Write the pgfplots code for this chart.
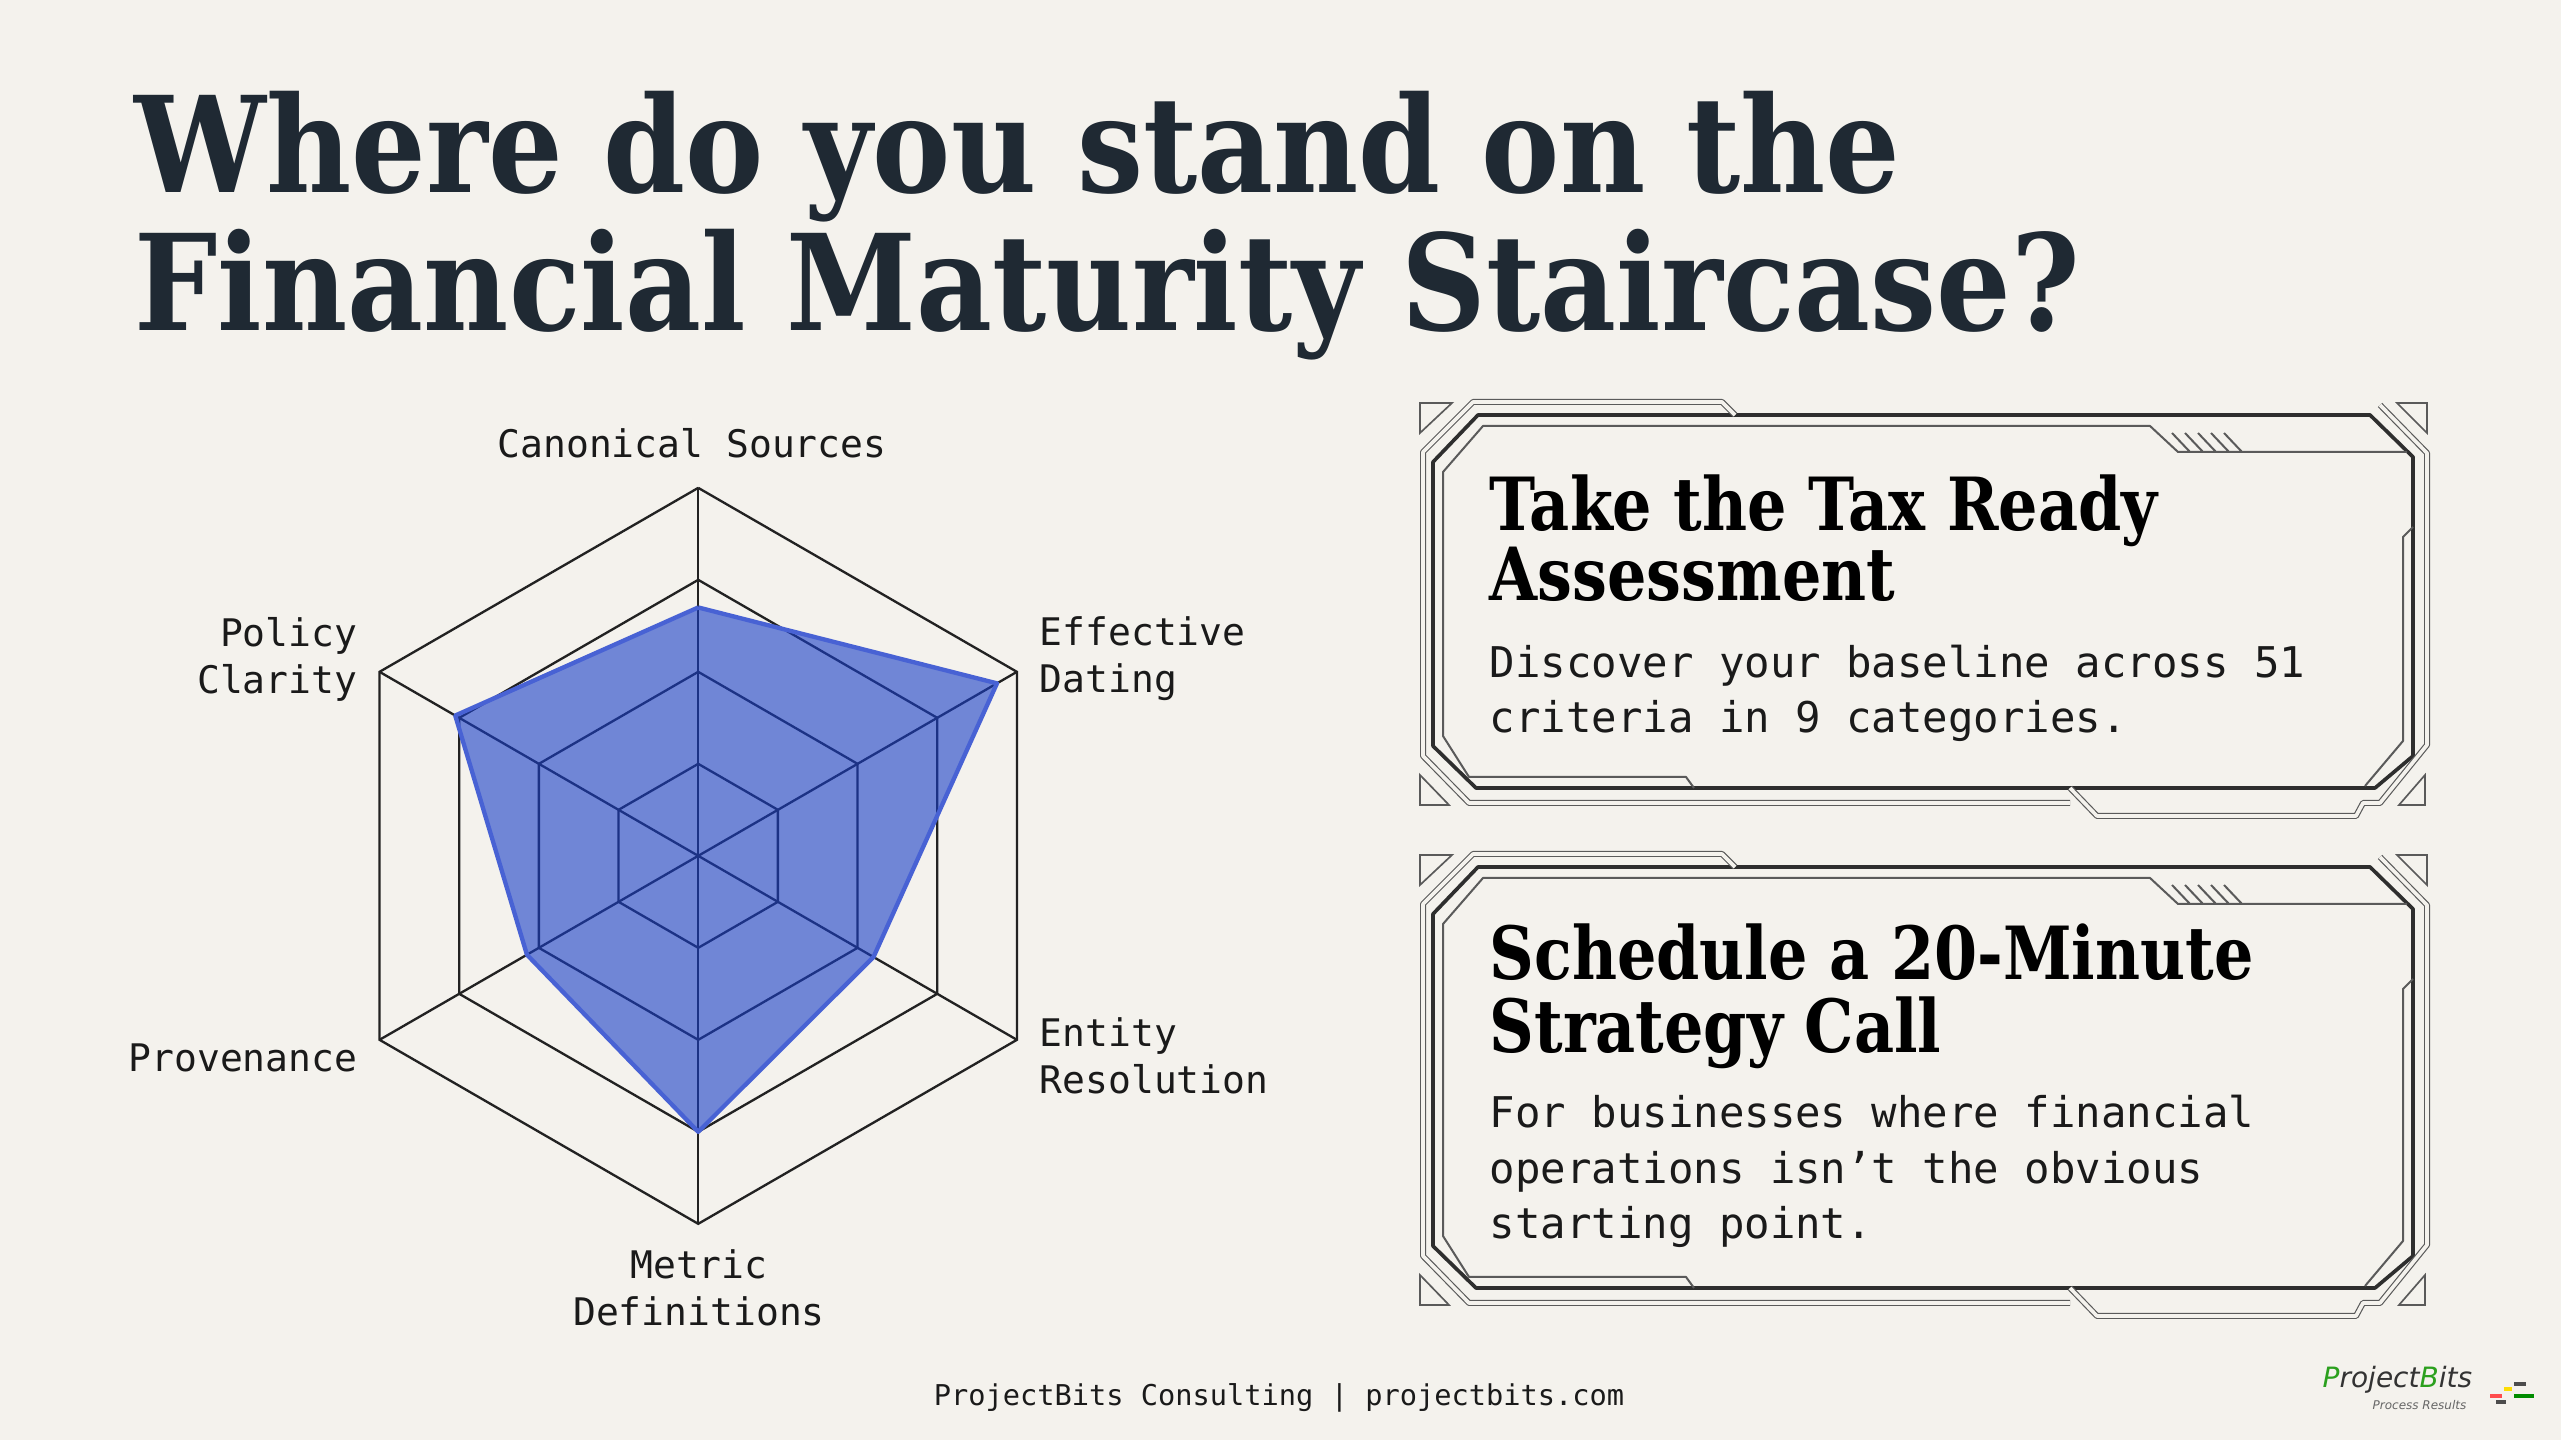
\documentclass[border=0pt]{standalone}
\usepackage{fontspec}
\usepackage{pgfplots}
\pgfplotsset{compat=1.18}
\usepgfplotslibrary{polar}
\setmainfont{DejaVu Serif}
\newfontfamily\slab{DejaVu Serif}[FakeStretch=0.88]
\newfontfamily\slabc{DejaVu Serif}[FakeStretch=0.845]
\newfontfamily\mono{DejaVu Sans Mono}
\newfontfamily\logofont{DejaVu Sans}
\definecolor{bgc}{HTML}{F4F2ED}
\definecolor{titlec}{HTML}{1F2933}
\definecolor{gridc}{HTML}{222222}
\definecolor{radarfill}{RGB}{25,62,200}
\definecolor{radaredge}{RGB}{72,98,212}
\definecolor{textc}{HTML}{1A1A1A}
\definecolor{framedark}{HTML}{2E2E2E}
\definecolor{framelight}{HTML}{5A5A5A}
\definecolor{logogreen}{HTML}{2BA01E}

\newcommand{\cardframe}[2]{%
  % main thick frame
  \draw[framedark, line width=1.1pt, line join=round]
    (1433,{1440-(#1+60)}) -- (1478,{1440-(#1+13)}) -- (2370,{1440-(#1+13)}) -- (2413,{1440-(#1+55)})
    -- (2413,{1440-(#2-60)}) -- (2375,{1440-(#2-28)}) -- (1476,{1440-(#2-28)}) -- (1433,{1440-(#2-70)}) -- cycle;
  % outer double thin line
  \draw[framelight, line width=0.35pt, double=bgc, double distance=1.1pt, line join=round]
    (1735,{1440-(#1+13)}) -- (1722,{1440-(#1)}) -- (1473,{1440-(#1)}) -- (1423,{1440-(#1+50)})
    -- (1423,{1440-(#2-60)}) -- (1469,{1440-(#2-13)}) -- (2070,{1440-(#2-13)});
  \draw[framelight, line width=0.35pt, double=bgc, double distance=1.1pt, line join=round]
    (2070,{1440-(#2-28)}) -- (2097,{1440-(#2)}) -- (2356,{1440-(#2)}) -- (2363,{1440-(#2-13)})
    -- (2380,{1440-(#2-13)}) -- (2427,{1440-(#2-71)}) -- (2427,{1440-(#1+51)}) -- (2380,{1440-(#1+3)});
  % inner thin line
  \draw[framelight, line width=0.6pt, line join=round]
    (2407,{1440-(#1+50)}) -- (2178,{1440-(#1+50)}) -- (2150,{1440-(#1+24)}) -- (1483,{1440-(#1+24)})
    -- (1443,{1440-(#1+70)}) -- (1443,{1440-(#2-80)}) -- (1469,{1440-(#2-39)}) -- (1686,{1440-(#2-39)}) -- (1694,{1440-(#2-28)});
  \draw[framelight, line width=0.6pt, line join=round]
    (2413,{1440-(#1+125)}) -- (2403,{1440-(#1+135)}) -- (2403,{1440-(#2-75)}) -- (2365,{1440-(#2-30)});
  % hatch marks
  \foreach \k in {0,...,4} {
    \draw[framelight, line width=0.6pt] ({2172+13*\k},{1440-(#1+31)}) -- ({2190+13*\k},{1440-(#1+50)});
  }
  % corner triangles
  \draw[framelight, line width=0.5pt] (1420,{1440-(#1+1)}) -- (1452,{1440-(#1+1)}) -- (1420,{1440-(#1+31)}) -- cycle;
  \draw[framelight, line width=0.5pt] (2397,{1440-(#1+1)}) -- (2427,{1440-(#1+1)}) -- (2427,{1440-(#1+31)}) -- cycle;
  \draw[framelight, line width=0.5pt] (1420,{1440-(#2-41)}) -- (1420,{1440-(#2-11)}) -- (1449,{1440-(#2-11)}) -- cycle;
  \draw[framelight, line width=0.5pt] (2425,{1440-(#2-41)}) -- (2425,{1440-(#2-11)}) -- (2399,{1440-(#2-11)}) -- cycle;
}

\begin{document}
\begin{tikzpicture}[x=0.3pt, y=0.3pt]
\fill[bgc] (0,0) rectangle (2561,1440);

% Title
\node[anchor=base west, inner sep=0pt, text=titlec, font=\slab\bfseries\fontsize{40}{48}\selectfont] at (134,1247) {Where do you stand on the};
\node[anchor=base west, inner sep=0pt, text=titlec, font=\slab\bfseries\fontsize{40}{48}\selectfont] at (134,1109) {Financial Maturity Staircase?};

% Radar chart
\begin{polaraxis}[
  at={(759,635)}, anchor=origin,
  width=220.8pt, height=220.8pt, scale only axis,
  xmin=0, xmax=360, ymin=0, ymax=4,
  axis line style={draw=none},
  xtick=\empty, ytick=\empty,
  grid=none, clip=false,
]
% hexagonal rings
\foreach \r in {1,2,3,4} {
  \addplot[gridc, line width=0.7pt, line join=miter, forget plot] coordinates {(90,\r) (30,\r) (330,\r) (270,\r) (210,\r) (150,\r) (90,\r)};
}
% spokes
\addplot[gridc, line width=0.7pt] coordinates {(90,0) (90,4)};
\addplot[gridc, line width=0.7pt] coordinates {(30,0) (30,4)};
\addplot[gridc, line width=0.7pt] coordinates {(330,0) (330,4)};
\addplot[gridc, line width=0.7pt] coordinates {(270,0) (270,4)};
\addplot[gridc, line width=0.7pt] coordinates {(210,0) (210,4)};
\addplot[gridc, line width=0.7pt] coordinates {(150,0) (150,4)};
% data: Canonical Sources, Effective Dating, Entity Resolution, Metric Definitions, Provenance, Policy Clarity
\addplot[fill=radarfill, fill opacity=0.6, draw=radaredge, line width=1.3pt, line join=round] coordinates {
  (90,2.7) (30,3.75) (330,2.2) (270,3.0) (210,2.15) (150,3.05) (90,2.7)
};
\end{polaraxis}

% Radar labels
\begin{scope}[every node/.style={text=textc, font=\mono\fontsize{11.4}{14.1}\selectfont, inner sep=0pt}]
\node[anchor=center] at (692,997) {Canonical Sources};
\node[anchor=west, align=left] at (1039,781) {Effective\\Dating};
\node[anchor=east, align=right] at (358,781) {Policy\\Clarity};
\node[anchor=east] at (358,382) {Provenance};
\node[anchor=west, align=left] at (1039,384) {Entity\\Resolution};
\node[anchor=center, align=center] at (699,152) {Metric\\Definitions};
\end{scope}

% Cards
\cardframe{402}{816}
\cardframe{854}{1316}

\begin{scope}[every node/.style={inner sep=0pt, anchor=base west}]
\node[text=black, font=\slabc\bfseries\fontsize{22}{26}\selectfont] at (1489,909) {Take the Tax Ready};
\node[text=black, font=\slabc\bfseries\fontsize{22}{26}\selectfont] at (1489,839) {Assessment};
\node[text=textc, font=\mono\fontsize{12.7}{16.7}\selectfont] at (1489,762) {Discover your baseline across 51};
\node[text=textc, font=\mono\fontsize{12.7}{16.7}\selectfont] at (1489,707) {criteria in 9 categories.};

\node[text=black, font=\slabc\bfseries\fontsize{22}{26}\selectfont] at (1489,460) {Schedule a 20-Minute};
\node[text=black, font=\slabc\bfseries\fontsize{22}{26}\selectfont] at (1489,387) {Strategy Call};
\node[text=textc, font=\mono\fontsize{12.7}{16.7}\selectfont] at (1489,312) {For businesses where financial};
\node[text=textc, font=\mono\fontsize{12.7}{16.7}\selectfont] at (1489,256) {operations isn’t the obvious};
\node[text=textc, font=\mono\fontsize{12.7}{16.7}\selectfont] at (1489,201) {starting point.};
\end{scope}

% Footer
\node[text=textc, font=\mono\fontsize{8.6}{10}\selectfont, inner sep=0pt] at (1279,42) {ProjectBits Consulting | projectbits.com};

% Logo
\node[anchor=base west, inner sep=0pt, font=\logofont\itshape\fontsize{8.4}{9}\selectfont, text=black!80] at (2322,52) {{\color{logogreen}P}roject{\color{logogreen}B}its};
\node[anchor=base west, inner sep=0pt, font=\logofont\itshape\fontsize{3.6}{4}\selectfont, text=black!60] at (2372,30) {Process Results};
\draw[red!70, line width=1.2pt] (2490,1440-1396) -- (2502,1440-1396);
\draw[yellow!80!orange, line width=1.2pt] (2504,1440-1389) -- (2512,1440-1389);
\draw[black!70, line width=1.2pt] (2514,1440-1384) -- (2526,1440-1384);
\draw[black!70, line width=1.2pt] (2496,1440-1402) -- (2506,1440-1402);
\draw[green!55!black, line width=1.2pt] (2514,1440-1396) -- (2534,1440-1396);

\pgfresetboundingbox
\path[use as bounding box] (0,0) rectangle (2561,1440);
\end{tikzpicture}
\end{document}
